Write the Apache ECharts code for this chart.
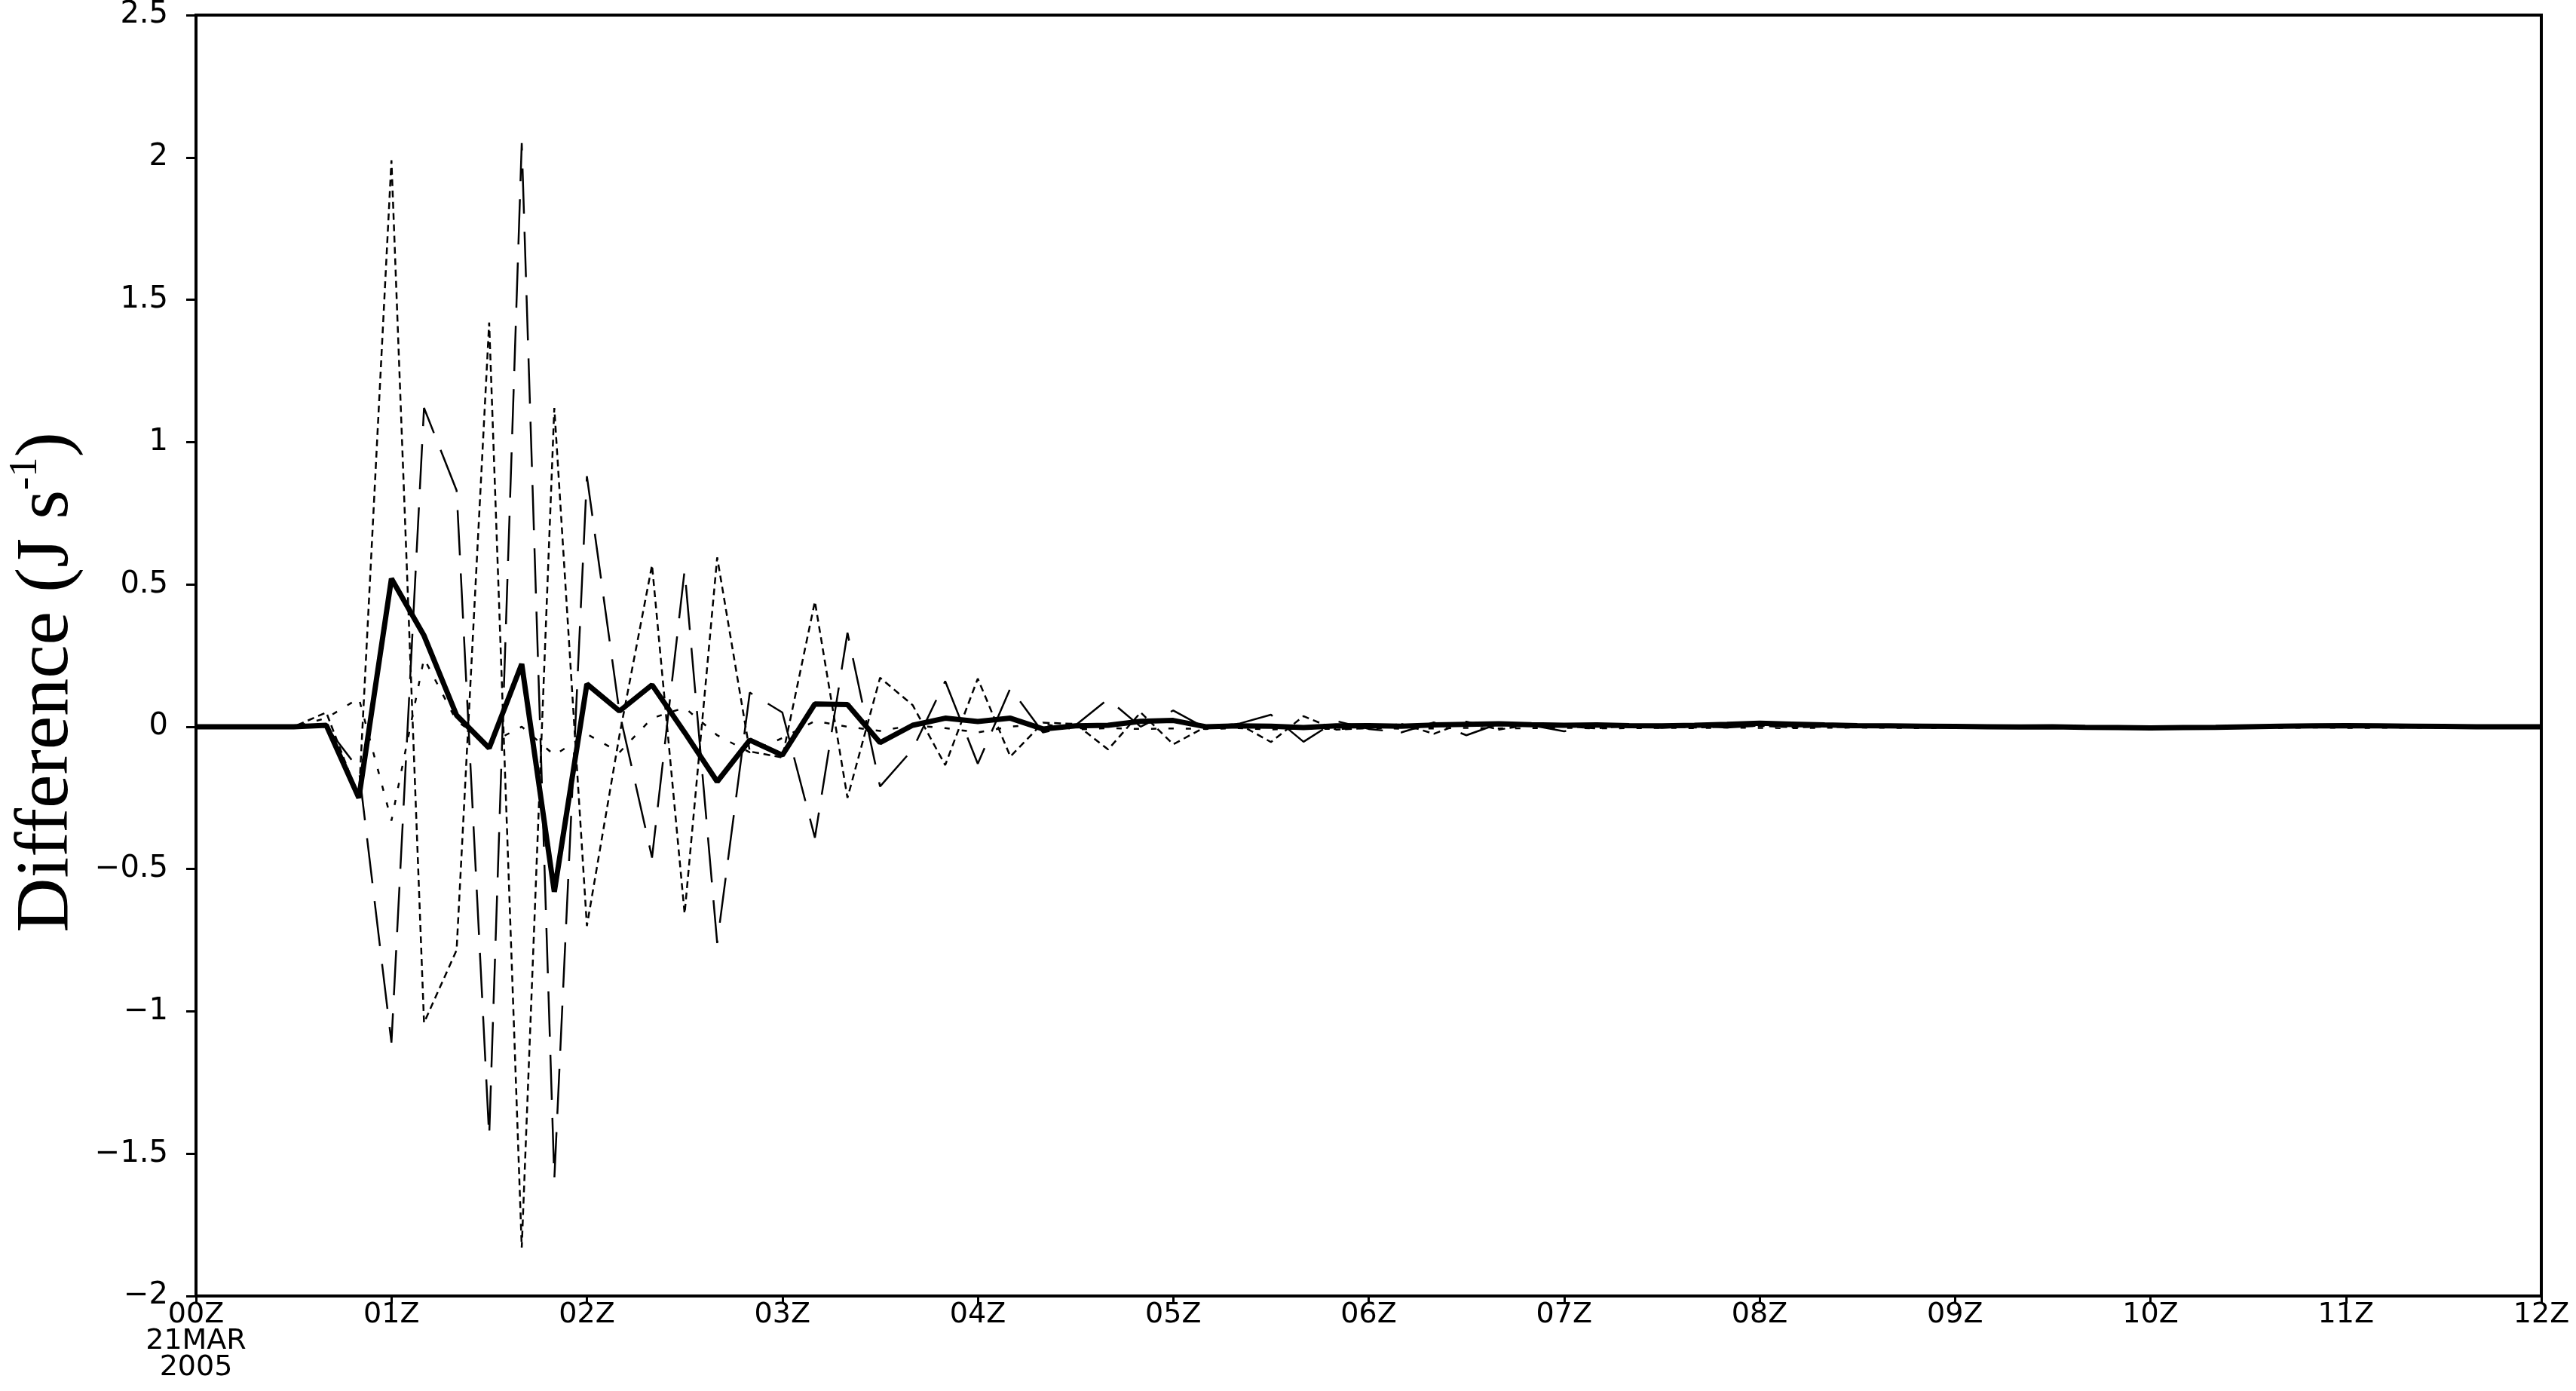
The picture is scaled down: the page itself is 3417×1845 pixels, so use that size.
<!DOCTYPE html>
<html><head><meta charset="utf-8">
<script src="https://cdn.jsdelivr.net/npm/echarts@6/dist/echarts.min.js"></script>
<style>html,body{margin:0;padding:0;background:#fff;overflow:hidden;width:100%;height:100%}#c{position:absolute;left:0;top:0;width:3417px;height:1845px}</style>
</head><body><div id="c"></div>
<script>
// time axis: 10-minute steps from 00Z to 12Z, 21 MAR 2005
const stepMinutes = 10;
const nSteps = 73;
const hourLabels = ['00Z','01Z','02Z','03Z','04Z','05Z','06Z','07Z','08Z','09Z','10Z','11Z','12Z'];
const dateLines = ['21MAR', '2005'];
const yTicks = [-2, -1.5, -1, -0.5, 0, 0.5, 1, 1.5, 2, 2.5];

// thick solid
const thickSolid = [0,0,0,0,0.005,
 -0.25,0.52,0.32,0.04,-0.075,
 0.22,-0.58,0.15,0.055,0.147,
 -0.02,-0.193,-0.047,-0.1,0.08,
 0.078,-0.056,0.005,0.03,0.018,
 0.03,-0.008,0.003,0.005,0.019,
 0.022,0.0,0.003,0.002,-0.003,
 0.003,0.004,0.002,0.006,0.008,
 0.01,0.007,0.005,0.006,0.004,
 0.003,0.005,0.008,0.012,0.009,
 0.006,0.004,0.003,0.002,0.001,
 0.0,-0.001,0.0,-0.002,-0.003,
 -0.004,-0.003,-0.002,0.0,0.002,
 0.003,0.004,0.003,0.002,0.001,
 0.0,0.0,0.0];

// long dashed
const longDash = [0,0,0,0,0,
 -0.15,-1.11,1.12,0.83,-1.44,
 2.05,-1.59,0.88,0.05,-0.46,
 0.55,-0.76,0.12,0.05,-0.39,
 0.33,-0.21,-0.08,0.16,-0.13,
 0.135,-0.02,0.005,0.097,0.0,
 0.057,-0.005,0.01,0.042,-0.053,
 0.02,-0.008,-0.02,0.015,-0.03,
 0.011,0.005,-0.016,0.005,0.003,
 -0.004,0.002,-0.003,0.004,0.002,
 0.0,-0.002,0.003,0.001,-0.002,
 0.0,0.002,-0.001,0.0,-0.003,
 -0.002,0.0,0.001,-0.001,0.002,
 0.003,0.001,0.0,0.002,0.0,
 0.0,0.001,0.0];

// short dashed
const shortDash = [0,0,0,0,0.05,
 -0.25,1.99,-1.04,-0.785,1.42,
 -1.83,1.12,-0.70,-0.03,0.568,
 -0.657,0.595,-0.087,-0.108,0.44,
 -0.25,0.172,0.076,-0.135,0.169,
 -0.105,0.014,0.01,-0.08,0.05,
 -0.062,0.0,0.01,-0.054,0.037,
 -0.01,-0.005,0.01,-0.025,0.018,
 -0.01,0.008,0.002,-0.006,0.004,
 0.002,-0.003,0.001,0.003,-0.002,
 0.0,0.002,-0.001,0.0,0.001,
 -0.002,0.0,0.001,-0.001,0.0,
 0.002,-0.001,0.0,0.001,0.0,
 -0.002,0.0,0.001,0.0,-0.001,
 0.0,0.0,0.0];

// sparse dashed
const sparseDash = [0,0,0,0,0.03,
 0.1,-0.33,0.24,0.02,-0.06,
 0.0,-0.1,-0.026,-0.09,0.03,
 0.067,-0.03,-0.09,-0.04,0.02,
 0.0,-0.015,0.005,-0.005,-0.02,
 0.0,0.01,-0.01,-0.005,-0.008,
 -0.006,-0.008,-0.005,-0.01,-0.006,
 -0.008,-0.005,-0.007,-0.006,-0.004,
 -0.006,-0.005,-0.004,-0.006,-0.005,
 -0.004,-0.005,-0.003,-0.004,-0.005,
 -0.004,-0.003,-0.004,-0.005,-0.004,
 -0.003,-0.004,-0.005,-0.003,-0.004,
 -0.004,-0.003,-0.004,-0.005,-0.004,
 -0.003,-0.004,-0.004,-0.003,-0.004,
 -0.004,-0.003,-0.004];

const hours = [];
for (let i = 0; i < nSteps; i++) hours.push(i * stepMinutes / 60);
const pairs = arr => arr.map((v, i) => [hours[i], v]);

const chart = echarts.init(document.getElementById('c'), null, {renderer: 'canvas', width: 3417, height: 1845});
const labelFont = 'DejaVu Sans';
const mkSeries = (name, arr, width, type, z) => ({
  name, type: 'line', data: pairs(arr), showSymbol: false, symbol: 'none',
  lineStyle: {color: '#000', width, type}, z, animation: false, clip: true
});

chart.setOption({
  animation: false,
  backgroundColor: '#fff',
  grid: {left: 260, right: 46, top: 15, bottom: 126, show: true, borderColor: '#000', borderWidth: 4, containLabel: false},
  xAxis: {
    type: 'value', min: 0, max: 12, interval: 1,
    axisLine: {show: true, onZero: false, lineStyle: {color: '#000', width: 4}},
    axisTick: {show: true, inside: false, length: 10, lineStyle: {color: '#000', width: 3}},
    splitLine: {show: false},
    axisLabel: {
      margin: 8, fontSize: 38, lineHeight: 35, fontFamily: labelFont, color: '#000',
      showMinLabel: true, showMaxLabel: true,
      formatter: v => {
        const s = hourLabels[Math.round(v)];
        return Math.round(v) === 0 ? [s].concat(dateLines).join('\n') : s;
      }
    }
  },
  yAxis: {
    type: 'value', min: yTicks[0], max: yTicks[yTicks.length - 1], interval: 0.5,
    axisLine: {show: true, onZero: false, lineStyle: {color: '#000', width: 4}},
    axisTick: {show: true, inside: false, length: 13, lineStyle: {color: '#000', width: 3}},
    splitLine: {show: false},
    axisLabel: {
      margin: 37, fontSize: 40, fontFamily: labelFont, color: '#000',
      showMinLabel: true, showMaxLabel: true,
      formatter: v => String(v).replace('-', '\u2212')
    }
  },
  graphic: [{
    type: 'text', x: 63, y: 905, rotation: Math.PI / 2, z: 100,
    style: {
      text: '{a|Difference (J s}{sup|-1}{a|)}',
      align: 'center', verticalAlign: 'middle', fill: '#000',
      rich: {
        a: {fontSize: 100, lineHeight: 110, fontFamily: 'Liberation Serif', fill: '#000', color: '#000'},
        sup: {fontSize: 52, lineHeight: 56, verticalAlign: 'top', fontFamily: 'Liberation Serif', fill: '#000', color: '#000'}
      }
    }
  }],
  series: [
    mkSeries('sparse', sparseDash, 2.5, [7, 16], 2),
    mkSeries('short', shortDash, 2.5, [9, 6], 3),
    mkSeries('long', longDash, 2.5, [60, 24], 4),
    mkSeries('mean', thickSolid, 7, 'solid', 5)
  ]
});
</script></body></html>
